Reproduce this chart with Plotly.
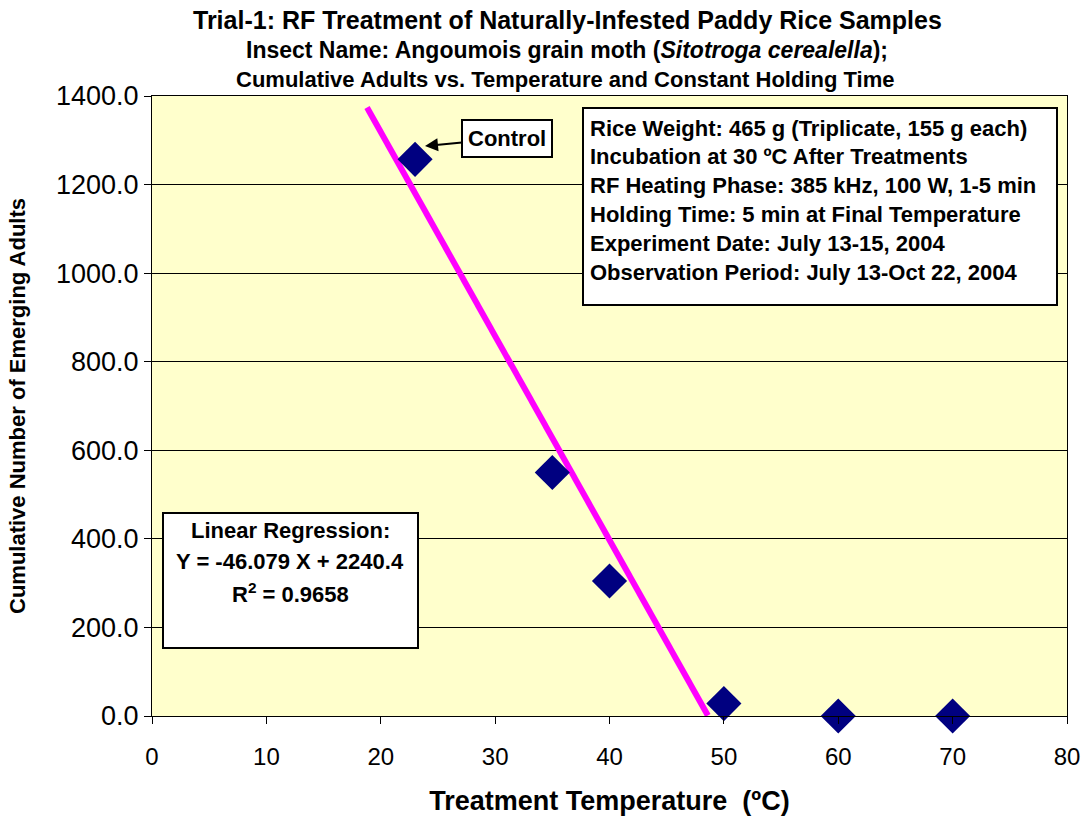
import plotly.graph_objects as go

# Data
temperature = [23, 35, 40, 50, 60, 70]
adults = [1257, 550, 305, 28, 0, 0]
slope = -46.079
intercept = 2240.4
fit_x = [18.8, 48.6]
fit_y = [slope * x + intercept for x in fit_x]

x_ticks = [0, 10, 20, 30, 40, 50, 60, 70, 80]
y_ticks = [0, 200, 400, 600, 800, 1000, 1200, 1400]

info_lines = ["Rice Weight: 465 g (Triplicate, 155 g each)",
              "Incubation at 30 ºC After Treatments",
              "RF Heating Phase: 385 kHz, 100 W, 1-5 min",
              "Holding Time: 5 min at Final Temperature",
              "Experiment Date: July 13-15, 2004",
              "Observation Period: July 13-Oct 22, 2004"]
reg_lines = ["Linear Regression:", "Y = -46.079 X + 2240.4", "R<sup>2</sup> = 0.9658"]

ARIAL = "Liberation Sans, Arial"

fig = go.Figure()
fig.add_trace(go.Scatter(x=fit_x, y=fit_y, mode="lines",
                         line=dict(color="#FF00FF", width=6), showlegend=False,
                         cliponaxis=False))
fig.add_trace(go.Scatter(x=temperature, y=adults, mode="markers",
                         marker=dict(symbol="diamond", size=27, color="#000080"),
                         showlegend=False, cliponaxis=False))

L, R, T, B = 152, 1067, 96, 716
W, H = R - L, B - T

def px(xp):
    return (xp - L) / W

def py(yp):
    return (B - yp) / H

fig.update_layout(
    width=1085, height=821,
    margin=dict(l=L, r=1085 - R, t=T, b=821 - B, autoexpand=False),
    paper_bgcolor="white",
    plot_bgcolor="#FFFFCC",
    xaxis=dict(range=[0, 80], tickvals=x_ticks, ticktext=[str(v) for v in x_ticks],
               showgrid=False, zeroline=False, showline=True, linecolor="black",
               linewidth=1, mirror=True, ticks="outside", ticklen=7, tickcolor="black",
               ticklabelstandoff=12,
               tickfont=dict(family=ARIAL, size=24, color="black"),
               title=dict(text="<b>Treatment Temperature  (ºC)</b>",
                          font=dict(family=ARIAL, size=27, color="black"), standoff=22)),
    yaxis=dict(range=[0, 1400], tickvals=y_ticks, ticktext=[f"{v:.1f}" for v in y_ticks],
               showgrid=True, gridcolor="black", gridwidth=1, zeroline=False,
               showline=True, linecolor="black", linewidth=1, mirror=True,
               ticks="outside", ticklen=7, tickcolor="black",
               tickfont=dict(family=ARIAL, size=27, color="black"),
               title=dict(text="<b>Cumulative Number of Emerging Adults</b>",
                          font=dict(family=ARIAL, size=22, color="black"), standoff=24)),
)

annos = []
annos.append(dict(xref="paper", yref="paper", x=px(567), y=py(20),
                  text="<b>Trial-1: RF Treatment of Naturally-Infested Paddy Rice Samples</b>",
                  showarrow=False, font=dict(family=ARIAL, size=25, color="black"),
                  xanchor="center", yanchor="middle"))
annos.append(dict(xref="paper", yref="paper", x=px(567), y=py(50),
                  text="<b>Insect Name: Angoumois grain moth (<i>Sitotroga cerealella</i>);</b>",
                  showarrow=False, font=dict(family=ARIAL, size=23, color="black"),
                  xanchor="center", yanchor="middle"))
annos.append(dict(xref="paper", yref="paper", x=px(565), y=py(80),
                  text="<b>Cumulative Adults vs. Temperature and Constant Holding Time</b>",
                  showarrow=False, font=dict(family=ARIAL, size=22, color="black"),
                  xanchor="center", yanchor="middle"))

shapes = [
    dict(type="rect", xref="paper", yref="paper", x0=px(583), x1=px(1057),
         y0=py(305), y1=py(108), fillcolor="white", line=dict(color="black", width=2),
         layer="above"),
    dict(type="rect", xref="paper", yref="paper", x0=px(163), x1=px(418),
         y0=py(648), y1=py(513), fillcolor="white", line=dict(color="black", width=2),
         layer="above"),
]

for i, line in enumerate(info_lines):
    annos.append(dict(xref="paper", yref="paper", x=px(588), y=py(128 + 28.8 * i),
                      text=f"<b>{line}</b>", showarrow=False, align="left",
                      xanchor="left", yanchor="middle",
                      font=dict(family=ARIAL, size=22, color="black")))

for i, line in enumerate(reg_lines):
    annos.append(dict(xref="paper", yref="paper", x=px(290), y=py(530 + 31.5 * i),
                      text=f"<b>{line}</b>", showarrow=False, align="center",
                      xanchor="center", yanchor="middle",
                      font=dict(family=ARIAL, size=22, color="black")))

annos.append(dict(xref="x", yref="y", x=(425 - L) / W * 80, y=(B - 146) / H * 1400,
                  text="<b>Control</b>", showarrow=True, arrowhead=2, arrowsize=1.3,
                  arrowwidth=2, arrowcolor="black", ax=82, ay=-8,
                  bgcolor="white", bordercolor="black", borderwidth=2, borderpad=5,
                  font=dict(family=ARIAL, size=22, color="black")))

fig.update_layout(annotations=annos, shapes=shapes)
fig.write_html("out.html", post_script="document.body.style.margin='0';",
               config={"displayModeBar": False})
